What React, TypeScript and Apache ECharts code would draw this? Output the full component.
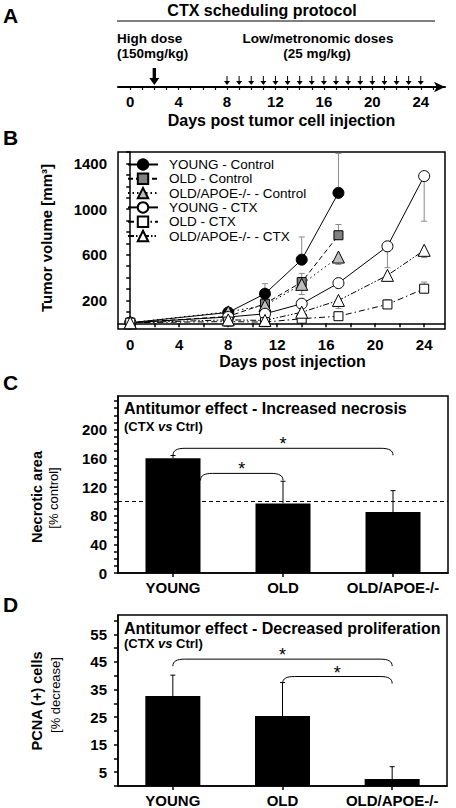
import React, { useEffect, useRef } from 'react';
import * as echarts from 'echarts';

const FONT = '"Liberation Sans", Arial, Helvetica, sans-serif';

// ---------- Panel A: CTX scheduling protocol ----------
const protocolTickDays = [0, 1, 2, 3, 4, 5, 6, 7, 8, 9, 10, 11, 12, 13, 14, 15, 16, 17, 18, 19, 20, 21, 22, 23, 24, 25];
const protocolLabelDays = [0, 4, 8, 12, 16, 20, 24];
const highDoseDays = [2];
const lowDoseDays = [8, 9, 10, 11, 12, 13, 14, 15, 16, 17, 18, 19, 20, 21, 22, 23, 24];

// ---------- Panel B: tumor volume ----------
const controlDays = [0, 8, 11, 14, 17];
const ctxDays = [0, 8, 11, 14, 17, 21, 24];
const youngControl = [5, 95, 259, 557, 1142];
const oldControl = [5, 60, 171, 361, 771];
const apoeControl = [5, 100, 156, 341, 580];
const youngCtx = [5, 55, 83, 171, 352, 674, 1289];
const oldCtx = [5, 15, 10, 40, 62, 165, 303];
const apoeCtx = [5, 30, 25, 97, 200, 420, 639];
const youngControlErr = [0, 0, 88, 199, 346];
const oldControlErr = [0, 0, 0, 76, 94];
const apoeControlErr = [0, 0, 0, 88, 64];
const youngCtxErr = [0, 0, 0, 0, 0, 187, 395];
const oldCtxErr = [0, 0, 0, 0, 20, 41, 58];
const apoeCtxErr = [0, 0, 0, 0, 70, 44, 64];
const volumeTickValues = [0, 100, 200, 300, 400, 500, 600, 700, 800, 900, 1000, 1100, 1200, 1300, 1400, 1500];
const volumeLabelValues = [200, 600, 1000, 1400];
const dayTickValues = [0, 2, 4, 6, 8, 10, 12, 14, 16, 18, 20, 22, 24];
const dayLabelValues = [0, 4, 8, 12, 16, 20, 24];

// ---------- Panel C: necrosis ----------
const groups = ['YOUNG', 'OLD', 'OLD/APOE-/-'];
const necrosis = [160, 97, 85];
const necrosisErr = [4, 31, 30];
const necrosisControlLevel = 100;
const necrosisTickValues = [0, 10, 20, 30, 40, 50, 60, 70, 80, 90, 100, 110, 120, 130, 140, 150, 160, 170, 180, 190, 200, 210, 220, 230, 240];
const necrosisLabelValues = [0, 40, 80, 120, 160, 200];
const necrosisSig = [
  { from: 0, to: 2, level: 174 },
  { from: 0, to: 1, level: 139 },
];

// ---------- Panel D: proliferation ----------
const pcna = [32.6, 25.4, 2.5];
const pcnaErr = [7.6, 12.1, 4.5];
const pcnaTickValues = [0, 5, 10, 15, 20, 25, 30, 35, 40, 45, 50, 55, 60];
const pcnaLabelValues = [5, 15, 25, 35, 45, 55];
const pcnaSig = [
  { from: 0, to: 2, level: 46 },
  { from: 1, to: 2, level: 39.7 },
];

const BAR_WIDTH = 55;

const lineDefs = [
  { name: 'YOUNG - Control', days: controlDays, vals: youngControl, err: youngControlErr, dir: 1, symbol: 'circle', size: 11, fill: '#000', dash: 'solid' as any },
  { name: 'OLD - Control', days: controlDays, vals: oldControl, err: oldControlErr, dir: 1, symbol: 'rect', size: 9, fill: '#808080', dash: [5, 3] },
  { name: 'OLD/APOE-/- - Control', days: controlDays, vals: apoeControl, err: apoeControlErr, dir: -1, symbol: 'triangle', size: 12, fill: '#bdbdbd', dash: [1.5, 3] },
  { name: 'YOUNG - CTX', days: ctxDays, vals: youngCtx, err: youngCtxErr, dir: -1, symbol: 'circle', size: 11, fill: '#fff', dash: 'solid' as any },
  { name: 'OLD - CTX', days: ctxDays, vals: oldCtx, err: oldCtxErr, dir: 1, symbol: 'rect', size: 9, fill: '#fff', dash: [6, 3, 1.5, 3] },
  { name: 'OLD/APOE-/- - CTX', days: ctxDays, vals: apoeCtx, err: apoeCtxErr, dir: -1, symbol: 'triangle', size: 12, fill: '#fff', dash: [6, 2, 1.5, 2, 1.5, 2] },
];

const boldText = (size: number) => ({ fontFamily: FONT, fontSize: size, fontWeight: 'bold' as const, color: '#000' });
const plain = (v: number) => String(v);

function errBarSeries(axisIdx: number, data: number[][], color: string, cap: number) {
  return {
    type: 'custom',
    xAxisIndex: axisIdx,
    yAxisIndex: axisIdx,
    silent: true,
    z: 1,
    data,
    renderItem: (_p: any, api: any) => {
      const p0 = api.coord([api.value(0), api.value(1)]);
      const p1 = api.coord([api.value(0), api.value(2)]);
      return {
        type: 'group',
        children: [
          { type: 'line', shape: { x1: p0[0], y1: p0[1], x2: p1[0], y2: p1[1] }, style: { stroke: color, lineWidth: 1 } },
          { type: 'line', shape: { x1: p1[0] - cap, y1: p1[1], x2: p1[0] + cap, y2: p1[1] }, style: { stroke: color, lineWidth: 1 } },
        ],
      };
    },
  };
}

function bracketSeries(axisIdx: number, sig: { from: number; to: number; level: number }[], bars: number[]) {
  return {
    type: 'custom',
    xAxisIndex: axisIdx,
    yAxisIndex: axisIdx,
    silent: true,
    z: 5,
    data: sig.map((s) => [s.from, s.to, s.level, bars[s.from]]),
    renderItem: (_p: any, api: any) => {
      const a = api.coord([api.value(0), api.value(2)]);
      const b = api.coord([api.value(1), api.value(2)]);
      const barTop = api.coord([api.value(0), api.value(3)])[1];
      const drop = 7;
      const y = a[1];
      let x1 = a[0];
      if (barTop < y + drop) x1 = a[0] + BAR_WIDTH / 2;
      const x2 = b[0];
      const d = `M${x1},${y + drop} C${x1},${y + 2} ${x1 + 4},${y} ${x1 + 12},${y} L${x2 - 12},${y} C${x2 - 4},${y} ${x2},${y + 2} ${x2},${y + drop}`;
      return {
        type: 'group',
        children: [
          { type: 'path', shape: { pathData: d }, style: { stroke: '#000', fill: 'none', lineWidth: 1 } },
          { type: 'text', x: (x1 + x2) / 2, y: y - 4, style: { text: '*', fontFamily: FONT, fontSize: 18, fill: '#000', align: 'center', verticalAlign: 'middle' } },
        ],
      };
    },
  };
}

function letter(t: string, y: number) {
  return { type: 'text', left: 3, top: y, style: { text: t, fontFamily: FONT, fontSize: 21, fontWeight: 'bold', fill: '#000' } };
}

function gtext(text: string, x: number, y: number, size: number, bold: boolean, align: string, rotation = 0, rich?: any) {
  return {
    type: 'text',
    x,
    y,
    rotation,
    style: {
      text,
      fontFamily: FONT,
      fontSize: size,
      fontWeight: bold ? 'bold' : 'normal',
      fill: '#000',
      align,
      verticalAlign: 'middle',
      rich,
    },
  };
}

const subRich = {
  n: { fontFamily: FONT, fontSize: 13, fontWeight: 'bold', fill: '#000' },
  i: { fontFamily: FONT, fontSize: 13, fontWeight: 'bold', fontStyle: 'italic', fill: '#000' },
};

export default function App() {
  const ref = useRef<HTMLDivElement>(null);
  useEffect(() => {
    if (!ref.current) return;
    const chart = echarts.init(ref.current, undefined, { renderer: 'svg' });

    const bErrData: number[][] = [];
    lineDefs.forEach((s) => {
      s.err.forEach((e, i) => {
        if (e > 0) bErrData.push([s.days[i], s.vals[i], s.vals[i] + s.dir * e]);
      });
    });

    const valueYAxis = (idx: number, min: number, max: number, ticks: number[], labels: number[]) => ({
      type: 'value',
      gridIndex: idx,
      min,
      max,
      axisLine: { show: true, lineStyle: { color: '#000', width: 1.5 } },
      axisTick: { show: true, customValues: ticks, length: 4, lineStyle: { color: '#000', width: 1.5 } },
      axisLabel: { show: true, customValues: labels, margin: 11, formatter: plain, ...boldText(15) },
      splitLine: { show: false },
    });

    const catXAxis = (idx: number) => ({
      type: 'category',
      gridIndex: idx,
      data: groups,
      axisLine: { show: true, lineStyle: { color: '#000', width: 1.5 } },
      axisTick: { show: true, alignWithLabel: true, length: 4, lineStyle: { color: '#000', width: 1.5 } },
      axisLabel: { margin: 7, interval: 0, hideOverlap: false, ...boldText(15) },
      splitLine: { show: false },
    });

    const option: any = {
      animation: false,
      backgroundColor: '#fff',
      grid: [
        { left: 118, top: 60, width: 327, height: 27 },
        { left: 118, top: 152, width: 327, height: 177, show: true, borderColor: '#000', borderWidth: 1.5 },
        { left: 118, top: 396, width: 330, height: 177, show: true, borderColor: '#000', borderWidth: 1.5 },
        { left: 118, top: 615, width: 329, height: 175, show: true, borderColor: '#000', borderWidth: 1.5 },
      ],
      xAxis: [
        {
          type: 'value', gridIndex: 0, min: -1, max: 26,
          name: 'Days post tumor cell injection', nameLocation: 'middle', nameGap: 25,
          nameTextStyle: boldText(16),
          axisLine: { show: true, symbol: ['none', 'arrow'], symbolSize: [8, 11], lineStyle: { color: '#000', width: 2 } },
          axisTick: { show: true, customValues: protocolTickDays, length: 3, lineStyle: { color: '#000', width: 1.2 } },
          axisLabel: { customValues: protocolLabelDays, margin: 7, formatter: plain, ...boldText(15) },
          splitLine: { show: false },
        },
        {
          type: 'value', gridIndex: 1, min: -1, max: 25.7,
          name: 'Days post injection', nameLocation: 'middle', nameGap: 24,
          nameTextStyle: { ...boldText(16), padding: [0, 0, 0, 22] },
          axisLine: { show: true, lineStyle: { color: '#000', width: 1.5 } },
          axisTick: { show: true, customValues: dayTickValues, length: 4, lineStyle: { color: '#000', width: 1.5 } },
          axisLabel: { customValues: dayLabelValues, margin: 8, formatter: plain, ...boldText(15) },
          splitLine: { show: false },
        },
        catXAxis(2),
        catXAxis(3),
      ],
      yAxis: [
        { type: 'value', gridIndex: 0, min: 0, max: 1, show: false },
        valueYAxis(1, -50, 1500, volumeTickValues, volumeLabelValues),
        valueYAxis(2, 0, 247, necrosisTickValues, necrosisLabelValues),
        valueYAxis(3, 0, 62, pcnaTickValues, pcnaLabelValues),
      ],
      legend: {
        orient: 'vertical',
        left: 127,
        top: 157.5,
        padding: 0,
        itemWidth: 30,
        itemHeight: 13,
        itemGap: 0.3,
        selectedMode: false,
        data: lineDefs.map((s) => s.name),
        textStyle: { fontFamily: FONT, fontSize: 13.5, color: '#000', padding: [0, 0, 0, 6] },
      },
      series: [
        {
          type: 'scatter', xAxisIndex: 0, yAxisIndex: 0, silent: true,
          data: highDoseDays.map((d) => [d, 0]),
          symbol: 'path://M3.3,0 L6.7,0 L6.7,10 L10,10 L5,17 L0,10 L3.3,10 Z',
          symbolSize: [10, 17], symbolOffset: [0, -10.5],
          itemStyle: { color: '#000', opacity: 1 },
        },
        {
          type: 'scatter', xAxisIndex: 0, yAxisIndex: 0, silent: true,
          data: lowDoseDays.map((d) => [d, 0]),
          symbol: 'path://M2.5,0 L3.5,0 L3.5,5 L6,5 L3,9 L0,5 L2.5,5 Z',
          symbolSize: [6, 9], symbolOffset: [0, -6.5],
          itemStyle: { color: '#000', opacity: 1 },
        },
        ...lineDefs.map((s) => ({
          type: 'line', name: s.name, xAxisIndex: 1, yAxisIndex: 1, z: 3,
          data: s.days.map((d, i) => [d, s.vals[i]]),
          symbol: s.symbol, symbolSize: s.size, showSymbol: true,
          lineStyle: { color: '#000', width: 1, type: s.dash },
          itemStyle: { color: s.fill, borderColor: '#000', borderWidth: 1 },
        })),
        errBarSeries(1, bErrData, '#8a8a8a', 3),
        {
          type: 'bar', xAxisIndex: 2, yAxisIndex: 2, barWidth: BAR_WIDTH, silent: true,
          data: necrosis, itemStyle: { color: '#000' },
          markLine: {
            silent: true, symbol: 'none', label: { show: false },
            lineStyle: { color: '#000', width: 1, type: [4, 3] },
            data: [{ yAxis: necrosisControlLevel }],
          },
        },
        errBarSeries(2, necrosis.map((v, i) => [i, v, v + necrosisErr[i]]), '#000', 2.5),
        bracketSeries(2, necrosisSig, necrosis),
        {
          type: 'bar', xAxisIndex: 3, yAxisIndex: 3, barWidth: BAR_WIDTH, silent: true,
          data: pcna, itemStyle: { color: '#000' },
        },
        errBarSeries(3, pcna.map((v, i) => [i, v, v + pcnaErr[i]]), '#000', 2.5),
        bracketSeries(3, pcnaSig, pcna),
      ],
      graphic: [
        letter('A', 5),
        letter('B', 127),
        letter('C', 372),
        letter('D', 594),
        gtext('CTX scheduling protocol', 262, 10, 16, true, 'center'),
        { type: 'line', shape: { x1: 117, y1: 21, x2: 435, y2: 21 }, style: { stroke: '#000', lineWidth: 1 } },
        gtext('High dose', 117, 38, 13.5, true, 'left'),
        gtext('(150mg/kg)', 117, 53, 13.5, true, 'left'),
        gtext('Low/metronomic doses', 318, 38, 13.5, true, 'center'),
        gtext('(25 mg/kg)', 317, 53, 13.5, true, 'center'),
        gtext('Tumor volume [mm³]', 46, 238, 15, true, 'center', Math.PI / 2),
        gtext('Antitumor effect - Increased necrosis', 124, 408, 16, true, 'left'),
        gtext('{n|(CTX }{i|vs}{n| Ctrl)}', 124, 426, 13, true, 'left', 0, subRich),
        gtext('Necrotic area', 37, 497, 14.5, true, 'center', Math.PI / 2),
        gtext('[% control]', 53, 498, 13, false, 'center', Math.PI / 2),
        gtext('Antitumor effect - Decreased proliferation', 124, 628, 16, true, 'left'),
        gtext('{n|(CTX }{i|vs}{n| Ctrl)}', 124, 643, 13, true, 'left', 0, subRich),
        gtext('PCNA (+) cells', 37, 701, 14.5, true, 'center', Math.PI / 2),
        gtext('[% decrease]', 55, 695, 13, false, 'center', Math.PI / 2),
      ],
    };
    chart.setOption(option);
    return () => chart.dispose();
  }, []);
  return <div ref={ref} style={{ position: 'absolute', left: 0, top: 0, width: 456, height: 808 }} />;
}
